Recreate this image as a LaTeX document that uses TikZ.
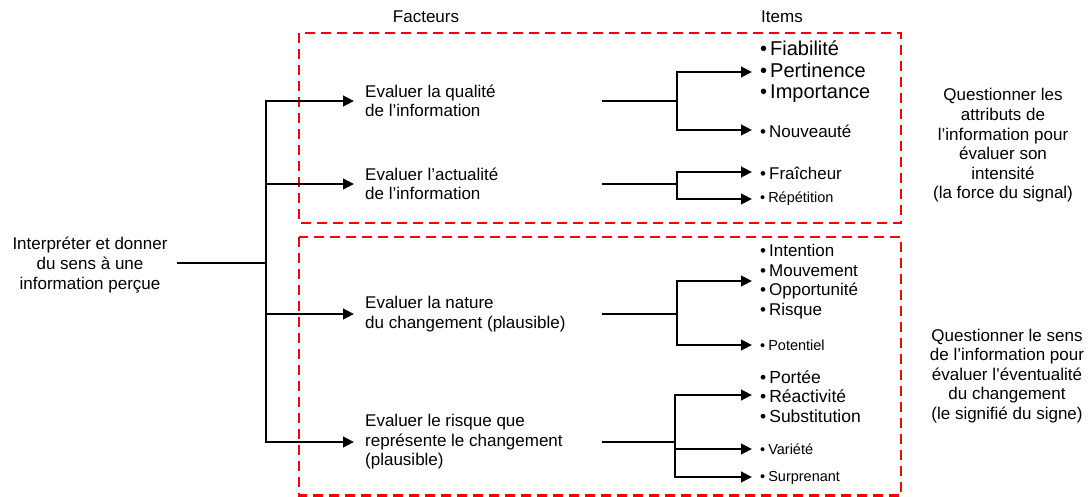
\documentclass[tikz,border=0pt]{standalone}
\usepackage{fontspec}
\setmainfont{Liberation Sans}
\usetikzlibrary{arrows.meta}
\newcommand\bul{\textbullet\hspace{3pt}}
\tikzset{
  conn/.style={line width=2.6pt, black, line cap=rect},
  arr/.style={line width=2.6pt, black, -{Triangle[length=11pt,width=10.5pt]}},
  grp/.style={draw=red, line width=2.6pt, dash pattern=on 10pt off 6pt},
  txt/.style={inner sep=0pt, align=center, font=\fontsize{17}{19.6}\selectfont},
  fac/.style={inner xsep=11pt, inner ysep=0pt, anchor=west, align=left, font=\fontsize{17}{19.6}\selectfont},
  itm/.style={inner xsep=8pt, inner ysep=0pt, anchor=west, align=left, font=\fontsize{17}{19.6}\selectfont},
  itmbig/.style={itm, font=\fontsize{20}{21.5}\selectfont},
  itmmid/.style={itm, font=\fontsize{17.5}{19.6}\selectfont},
  itmsmall/.style={itm, font=\fontsize{14.5}{17}\selectfont},
}
\begin{document}
\begin{tikzpicture}[x=1pt,y=-1pt]
\useasboundingbox (0,0) rectangle (1089,497);

% group boxes
\draw[grp] (299,33) rectangle (901,223);
\draw[grp] (299,237) rectangle (901,495.5);

% headers
\node[txt] (hfac) at (426,17) {Facteurs};
\node[txt] (hitm) at (782,17) {Items};

% root
\node[txt] (root) at (90,265) {Interpréter et donner\\du sens à une\\information perçue};
\coordinate (s0) at (178,263);
\coordinate (j0) at (266,263);
\coordinate (t1) at (266,101);
\coordinate (t2) at (266,184);
\coordinate (t3) at (266,314);
\coordinate (t4) at (266,442);

% factors
\node[fac] (f1) at (354,101) {Evaluer la qualité\\de l’information};
\node[fac] (f2) at (354,184) {Evaluer l’actualité\\de l’information};
\node[fac] (f3) at (354,314) {Evaluer la nature\\du changement (plausible)};
\node[fac] (f4) at (354,442) {Evaluer le risque que\\représente le changement\\(plausible)};

\draw[conn] (s0) -- (j0);
\draw[conn] (t1) -- (t4);
\draw[arr] (t1) -- (f1.west);
\draw[arr] (t2) -- (f2.west);
\draw[arr] (t3) -- (f3.west);
\draw[arr] (t4) -- (f4.west);

% items
\node[itmbig] (i1a) at (752,72) {\bul Fiabilité\\\bul Pertinence\\\bul Importance};
\node[itm] (i1b) at (752,131) {\bul Nouveauté};
\node[itm] (i2a) at (752,173) {\bul Fraîcheur};
\node[itmsmall] (i2b) at (752,199) {\bul Répétition};
\node[itm] (i3a) at (752,281.5) {\bul Intention\\\bul Mouvement\\\bul Opportunité\\\bul Risque};
\node[itmsmall] (i3b) at (752,345) {\bul Potentiel};
\node[itmmid] (i4a) at (752,396.5) {\bul Portée\\\bul Réactivité\\\bul Substitution};
\node[itmsmall] (i4b) at (752,449) {\bul Variété};
\node[itmsmall] (i4c) at (752,478) {\bul Surprenant};

% branch 1
\coordinate (s1) at (603,101);
\coordinate (b1) at (677,101);
\coordinate (b1a) at (677,72);
\coordinate (b1b) at (677,130);
\draw[conn] (s1) -- (b1);
\draw[conn] (b1a) -- (b1b);
\draw[arr] (b1a) -- (b1a -| i1a.west);
\draw[arr] (b1b) -- (b1b -| i1b.west);

% branch 2
\coordinate (s2) at (603,184);
\coordinate (b2) at (677,184);
\coordinate (b2a) at (677,172);
\coordinate (b2b) at (677,199);
\draw[conn] (s2) -- (b2);
\draw[conn] (b2a) -- (b2b);
\draw[arr] (b2a) -- (b2a -| i2a.west);
\draw[arr] (b2b) -- (b2b -| i2b.west);

% branch 3
\coordinate (s3) at (603,314);
\coordinate (b3) at (677,314);
\coordinate (b3a) at (677,281);
\coordinate (b3b) at (677,345);
\draw[conn] (s3) -- (b3);
\draw[conn] (b3a) -- (b3b);
\draw[arr] (b3a) -- (b3a -| i3a.west);
\draw[arr] (b3b) -- (b3b -| i3b.west);

% branch 4
\coordinate (s4) at (603,442);
\coordinate (b4) at (675,442);
\coordinate (b4a) at (675,395);
\coordinate (b4b) at (675,449);
\coordinate (b4c) at (675,477);
\draw[conn] (s4) -- (b4);
\draw[conn] (b4a) -- (b4c);
\draw[arr] (b4a) -- (b4a -| i4a.west);
\draw[arr] (b4b) -- (b4b -| i4b.west);
\draw[arr] (b4c) -- (b4c -| i4c.west);

% right-hand notes
\node[txt] (r1) at (1003,145.5) {Questionner les\\attributs de\\l’information pour\\évaluer son\\intensité\\(la force du signal)};
\node[txt] (r2) at (1007,376) {Questionner le sens\\de l’information pour\\évaluer l’éventualité\\du changement\\(le signifié du signe)};
\end{tikzpicture}
\end{document}
